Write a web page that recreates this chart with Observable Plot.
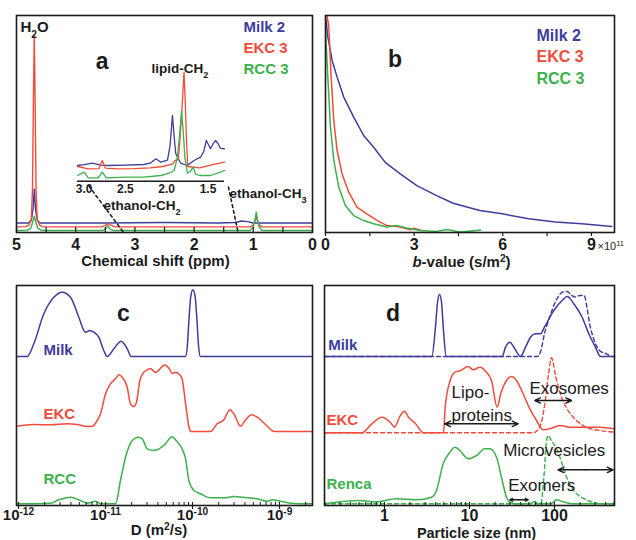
<!DOCTYPE html>
<html><head><meta charset="utf-8">
<script src="https://cdn.jsdelivr.net/npm/d3@7"></script>
<script src="https://cdn.jsdelivr.net/npm/@observablehq/plot@0.6"></script>
<style>
html,body{margin:0;padding:0;background:#fff;}
#fig{position:relative;width:636px;height:540px;overflow:hidden;background:#fff;}
</style></head><body><div id="fig"></div>
<script>
// ================= DATA =================
const namesAB = ["Milk 2", "EKC 3", "RCC 3"];
const namesC = ["Milk", "EKC", "RCC"];
const namesD = ["Milk", "EKC", "Renca"];
const regionNames = ["Lipo-", "proteins", "Exosomes", "Microvesicles", "Exomers"];

// panel a: 1H spectra [ppm, intensity]
const milkA = [[5,4.4],[4.8,4.4],[4.75,5.5],[4.72,11],[4.70,20],[4.68,11],[4.65,5.5],[4.6,4.4],[3.5,4.4],[2.5,4.6],[1.6,4.4],[1.3,4.6],[1.2,5.3],[1.1,5.0],[1.0,4.4],[0,4.4]];
const ekcA = [[5,2.6],[4.85,2.7],[4.79,3.3],[4.75,6],[4.73,20],[4.715,60],[4.70,90.8],[4.685,60],[4.67,20],[4.65,6],[4.61,3.3],[4.55,2.7],[4.4,2.6],[3.56,2.6],[3.5,3.3],[3.45,4.1],[3.4,3.3],[3.33,2.6],[1.05,2.6],[1.0,3.5],[0.97,5.5],[0.95,7.1],[0.93,5.5],[0.9,3.5],[0.85,2.6],[0,2.6]];
const rccA = [[5,0.9],[4.82,1.0],[4.76,2],[4.73,4.5],[4.70,7.5],[4.67,4.5],[4.64,2],[4.58,1.0],[4.5,0.9],[3.55,0.9],[3.5,1.6],[3.46,3.2],[3.42,1.6],[3.36,0.9],[1.05,0.9],[1.0,2.5],[0.97,6],[0.95,9.4],[0.93,6],[0.9,2.5],[0.85,0.9],[0,0.9]];
// panel a inset [ppm, intensity]
const milkIn = [[3.08,15.7],[3.0,16.5],[2.9,18],[2.8,16],[2.7,15.7],[2.5,16],[2.28,16.7],[2.2,18],[2.13,22.4],[2.07,19],[1.99,21],[1.96,35],[1.93,65.7],[1.91,45],[1.89,27.4],[1.83,18],[1.75,15.7],[1.67,20.7],[1.59,24],[1.55,30],[1.52,40.7],[1.49,36],[1.47,32.4],[1.44,37],[1.41,40.7],[1.38,38],[1.35,33],[1.30,32.4]];
const ekcIn = [[3.08,14.7],[2.95,12.4],[2.82,12.6],[2.78,20.7],[2.74,13],[2.6,12.4],[2.4,12.5],[2.2,13.4],[2.05,14.7],[1.93,17],[1.9,20.7],[1.86,21.5],[1.84,40],[1.81,80],[1.79,109],[1.775,80],[1.76,40],[1.745,14.7],[1.6,13.4],[1.47,16],[1.30,19]];
const rccIn = [[3.08,5.7],[3.0,9],[2.95,3.4],[2.83,3.4],[2.78,9],[2.73,3.4],[2.5,4],[2.28,4],[2.07,5.7],[1.97,8],[1.91,10.7],[1.87,24],[1.84,50],[1.82,70.7],[1.80,50],[1.78,24],[1.75,8],[1.71,10],[1.68,14],[1.65,7],[1.6,5.7],[1.47,5.7],[1.35,9],[1.30,10.7]];

// panel b: decay [b-value (1e11 s/m2), normalized signal]
const milkB = [[0,1.0],[0.08,0.9],[0.225,0.793],[0.393,0.716],[0.617,0.624],[0.954,0.532],[1.29,0.447],[1.63,0.393],[2.02,0.323],[2.53,0.270],[3.09,0.216],[3.76,0.17],[4.32,0.135],[5.22,0.101],[5.98,0.086],[6.88,0.063],[7.78,0.048],[8.68,0.040],[9.69,0.028]];
const ekcB = [[0.03,1.02],[0.112,0.946],[0.191,0.716],[0.28,0.516],[0.393,0.378],[0.561,0.270],[0.786,0.186],[1.066,0.117],[1.40,0.086],[1.74,0.056],[2.08,0.032],[2.53,0.025],[2.86,0.012],[3.0,0.02],[3.25,0.009]];
const rccB = [[0,0.93],[0.079,0.716],[0.168,0.485],[0.28,0.332],[0.449,0.209],[0.673,0.124],[0.954,0.078],[1.29,0.055],[1.63,0.040],[2.08,0.025],[2.41,0.032],[2.75,0.021],[3.2,0.009],[3.76,0.005],[4.1,0.014],[4.55,0.002],[5.11,0.009],[5.25,0.012]];

// panel c: D distributions [log10 D, height]
const milkC = [[-12.023,0],[-11.90,0],[-11.824,12.7],[-11.709,42.7],[-11.594,59.3],[-11.498,64.3],[-11.402,59.3],[-11.307,39.3],[-11.23,24.3],[-11.18,26],[-11.134,24.3],[-11.077,19.3],[-11.02,6],[-10.98,0],[-10.904,7.7],[-10.82,15.3],[-10.75,7.7],[-10.705,0],[-10.08,0],[-10.06,10],[-10.04,38],[-10.02,60],[-9.996,66.7],[-9.97,60],[-9.95,38],[-9.93,10],[-9.91,0],[-8.624,0]];
const ekcC = [[-12.023,5.3],[-11.824,7],[-11.632,6.7],[-11.44,7.7],[-11.325,7],[-11.21,5],[-11.153,5.3],[-11.095,11],[-11.057,17.7],[-11.0,37.7],[-10.943,47.7],[-10.885,52.7],[-10.847,56.7],[-10.808,54.3],[-10.75,44.3],[-10.713,27.7],[-10.675,25],[-10.644,29.3],[-10.605,51],[-10.567,58.3],[-10.52,61.7],[-10.483,63],[-10.425,59],[-10.32,66.5],[-10.272,63.5],[-10.233,58],[-10.195,59.3],[-10.15,57],[-10.118,52],[-10.08,28],[-10.042,5],[-10.023,0],[-9.793,0],[-9.716,7.7],[-9.64,11.7],[-9.571,21.7],[-9.525,17.7],[-9.448,5.3],[-9.39,11.7],[-9.322,16.7],[-9.256,14.3],[-9.161,7],[-9.057,0],[-8.624,0]];
const rccC = [[-12.023,0],[-11.632,0.6],[-11.537,4],[-11.402,6.6],[-11.287,3.3],[-11.21,0.6],[-11.115,2.6],[-11.057,0],[-10.885,0],[-10.828,23.3],[-10.77,46.6],[-10.693,63.3],[-10.63,66.6],[-10.578,65],[-10.52,55],[-10.444,53.3],[-10.406,54],[-10.31,60],[-10.24,67],[-10.176,62],[-10.12,55],[-10.08,45],[-10.042,23.3],[-9.985,13.5],[-9.908,10],[-9.793,6],[-9.64,6],[-9.525,7.3],[-9.371,6],[-9.256,5],[-9.14,2.6],[-9.084,4],[-8.989,2.6],[-8.874,0.6],[-8.682,0],[-8.624,0]];

// panel d: size distributions [log10 nm, height]; solid and dashed
const milkD = [[-0.706,0],[0.557,0],[0.596,26],[0.625,55],[0.647,62],[0.67,55],[0.694,26],[0.726,0],[1.384,0],[1.424,9.3],[1.475,14.3],[1.522,9.3],[1.6,0],[1.659,9.3],[1.718,19.3],[1.776,22.7],[1.835,22.7],[1.882,29.3],[1.992,46],[2.09,56],[2.149,60],[2.227,52.7],[2.325,39.3],[2.404,22.7],[2.482,9.3],[2.541,0],[2.706,0]];
const milkDd = [[-0.706,0],[1.80,0],[1.84,6],[1.88,22],[1.945,40],[2.024,57],[2.10,64.5],[2.15,65],[2.19,62],[2.24,59.5],[2.30,61],[2.35,61],[2.38,50],[2.42,30],[2.46,18],[2.53,6],[2.61,2.7],[2.68,0],[2.706,0]];
const ekcD = [[-0.706,0],[-0.267,0],[-0.149,9],[-0.031,15.6],[0.067,10.6],[0.118,5.6],[0.184,17],[0.235,21.6],[0.282,15.6],[0.361,9.6],[0.459,0],[0.694,0],[0.714,25.6],[0.773,52.3],[0.831,60.6],[0.89,62],[0.984,66.3],[1.043,63],[1.122,65.6],[1.2,60.6],[1.259,52.3],[1.325,25.6],[1.37,40],[1.435,52.3],[1.494,56.3],[1.553,52.3],[1.631,39],[1.71,24],[1.788,12.3],[1.867,3],[1.945,4],[2.063,7.3],[2.18,5.6],[2.337,5.6],[2.533,5.6],[2.706,4]];
const ekcDd = [[-0.706,0],[1.749,0],[1.827,5.6],[1.886,29],[1.925,55.6],[1.965,75],[2.016,55.6],[2.082,35.6],[2.16,22.3],[2.259,12.3],[2.376,5.6],[2.533,2.3],[2.706,0.6]];
const rencaD = [[-0.706,0],[-0.565,1.6],[-0.31,3.3],[-0.094,2],[0.141,5],[0.376,4],[0.553,6.6],[0.612,13.3],[0.69,40],[0.769,51.6],[0.827,56.6],[0.886,53.3],[0.984,45],[1.082,48.3],[1.18,55],[1.239,55],[1.318,46.6],[1.376,26.6],[1.435,6.6],[1.475,1.6],[1.553,0],[1.71,0],[1.769,2.3],[1.808,0],[1.96,0],[2.024,4],[2.1,2],[2.22,0],[2.706,0]];
const rencaDd = [[-0.706,0],[1.84,0],[1.875,26.6],[1.906,62],[1.925,68.3],[1.965,63],[2.024,55],[2.082,42],[2.141,27],[2.22,14],[2.337,5.6],[2.455,1.6],[2.573,0],[2.706,0]];

// stacking baselines (panel units)
const offsetsC = [149, 74, 1.7];
const offsetsD = [149, 72.7, 1.7];
// size ranges (nm) for the arrows in panel d
const rangeLipo = [5.1, 37.4], rangeExo = [58.7, 158.5], rangeMicro = [110, 490], rangeExomer = [29.8, 49];

// ticks
const ticksA = [5, 4, 3, 2, 1, 0];
const minorA = [5, 4.5, 4, 3.5, 3, 2.5, 2, 1.5, 1, 0.5, 0];
const ticksInset = [3.0, 2.5, 2.0, 1.5];
const ticksB = [0, 3, 6, 9];
const minorB = [0, 1.5, 3, 4.5, 6, 7.5, 9];
const ticksC = [1e-12, 1e-11, 1e-10, 1e-9];
const ticksD = [1, 10, 100, 500];
const decadesD = [1, 10, 100];

// ================= DRAW =================
const FONT = '"Liberation Sans", Arial, Helvetica, sans-serif';
const INK = "#1b1b1b";
const COLORS = ["#3d3d9e", "#f14b3b", "#3bb14b"];
const fig = document.getElementById("fig");

function richText(svg) {
  d3.select(svg).selectAll("text").each(function () {
    if (this.children.length) return;
    const s = this.textContent;
    if (!/[\^_*]\{/.test(s)) return;
    this.textContent = "";
    const re = /([\^_*])\{([^}]*)\}/g;
    let last = 0, m;
    const add = (t) => { const e = document.createElementNS("http://www.w3.org/2000/svg", "tspan"); e.textContent = t; this.appendChild(e); return e; };
    while ((m = re.exec(s))) {
      if (m.index > last) add(s.slice(last, m.index));
      const t = add(m[2]);
      if (m[1] === "^") { t.setAttribute("baseline-shift", "super"); t.setAttribute("font-size", "68%"); }
      else if (m[1] === "_") { t.setAttribute("baseline-shift", "sub"); t.setAttribute("font-size", "68%"); }
      else t.setAttribute("font-style", "italic");
      last = re.lastIndex;
    }
    if (last < s.length) add(s.slice(last));
  });
}
function mount(svg, left, top) {
  svg.style.position = "absolute";
  svg.style.left = left + "px";
  svg.style.top = top + "px";
  svg.style.maxWidth = "none";
  svg.style.background = "transparent";
  svg.style.overflow = "visible";
  fig.appendChild(svg);
  richText(svg);
}
function lab(text, dx, dy, o = {}) {
  return Plot.text([text], {
    frameAnchor: "top-left", dx, dy, textAnchor: o.anchor || "start", lineAnchor: "middle",
    fontSize: o.size || 15, fontWeight: o.weight || "bold", fill: o.fill || INK
  });
}
const base = (w, h, m) => ({
  width: w, height: h, marginTop: m[0], marginRight: m[1], marginBottom: m[2], marginLeft: m[3],
  style: { fontFamily: FONT, background: "transparent", overflow: "visible", color: INK }
});
const axisOpts = (size, pad) => ({ tickSize: 0, tickPadding: pad, fontSize: size, fontWeight: "bold", label: null });
const logMinor = (lo, hi) => {
  const out = [];
  for (let e = Math.floor(Math.log10(lo)); e <= Math.ceil(Math.log10(hi)); e++)
    for (let k = 1; k < 10; k++) { const v = k * 10 ** e; if (v >= lo && v <= hi) out.push(v); }
  return out;
};

// ---------- panel a ----------
const specA = [milkA, ekcA, rccA];
const A = Plot.plot({
  ...base(318, 270, [15, 6, 38, 16]),
  x: { domain: [5, 0] }, y: { domain: [0, 100], axis: null },
  marks: [
    ...specA.map((d, i) => Plot.line(d, { x: p => p[0], y: p => p[1], stroke: COLORS[i], strokeWidth: 1.4 })),
    Plot.line([[3.78, 21.5], [3.19, 0]], { x: p => p[0], y: p => p[1], stroke: INK, strokeWidth: 1.5, strokeDasharray: "3,3" }),
    Plot.line([[1.42, 21], [1.26, 0.4]], { x: p => p[0], y: p => p[1], stroke: INK, strokeWidth: 1.5, strokeDasharray: "3,3" }),
    Plot.ruleX(minorA, { insetTop: 217 - 5, stroke: INK, strokeWidth: 1.2 }),
    Plot.frame({ stroke: INK, strokeWidth: 1.6 }),
    Plot.axisX({ ticks: ticksA, tickFormat: d => String(d), ...axisOpts(16, 6) }),
    lab("H_{2}O", 4, 12, { size: 15 }),
    lab("a", 85.7, 46, { size: 23, anchor: "middle" }),
    lab("lipid-CH_{2}", 135, 53, { size: 13.5 }),
    lab("ethanol-CH_{2}", 87, 190, { size: 13.5 }),
    lab("ethanol-CH_{3}", 213, 178, { size: 13.5 }),
    ...namesAB.map((n, i) => lab(n, 227, 11.7 + i * 20.8, { size: 15, fill: COLORS[i] })),
    lab("Chemical shift (ppm)", 139, 246, { size: 15, anchor: "middle" })
  ]
});
mount(A, 0, 0);

const specIn = [milkIn, ekcIn, rccIn];
const AI = Plot.plot({
  ...base(166, 145, [10, 12, 24.3, 7]),
  x: { domain: [3.08, 1.30] }, y: { domain: [0, 110.7], axis: null },
  marks: [
    ...specIn.map((d, i) => Plot.line(d, { x: p => p[0], y: p => p[1], stroke: COLORS[i], strokeWidth: 1.3 })),
    Plot.ruleY([0], { stroke: INK, strokeWidth: 1.5 }),
    Plot.axisX({ ticks: ticksInset, tickFormat: d3.format(".1f"), ...axisOpts(12, 3) })
  ]
});
mount(AI, 70, 60);

// ---------- panel b ----------
const decB = [milkB, ekcB, rccB];
const B = Plot.plot({
  ...base(318, 270, [15, 22, 38, 7]),
  x: { domain: [0, 9.78] }, y: { domain: [0, 1], axis: null },
  marks: [
    ...decB.map((d, i) => Plot.line(d, { x: p => p[0], y: p => p[1], stroke: COLORS[i], strokeWidth: 1.5, clip: true })),
    Plot.ruleX(minorB, { insetTop: 217, insetBottom: -4, stroke: INK, strokeWidth: 1.2 }),
    Plot.frame({ stroke: INK, strokeWidth: 1.6 }),
    Plot.axisX({ ticks: ticksB, tickFormat: d => String(d), ...axisOpts(16, 6) }),
    lab("b", 69.5, 44, { size: 23, anchor: "middle" }),
    ...namesAB.map((n, i) => lab(n, 211, 20 + i * 21.5, { size: 16, fill: COLORS[i] })),
    lab("\u00d710^{11}", 272, 231, { size: 11, weight: "normal" }),
    lab("*{b}-value (s/m^{2})", 136, 247, { size: 15, anchor: "middle" })
  ]
});
mount(B, 318, 0);

// ---------- panel c ----------
const distC = [milkC, ekcC, rccC];
const domC = [10 ** -12.023, 10 ** -8.621];
const C = Plot.plot({
  ...base(318, 270, [15, 6, 35, 16]),
  x: { type: "log", domain: domC }, y: { domain: [0, 220], axis: null },
  marks: [
    ...distC.map((d, i) => Plot.line(d, { x: p => 10 ** p[0], y: p => offsetsC[i] + p[1], stroke: COLORS[i], strokeWidth: 1.5, curve: "monotone-x" })),
    Plot.ruleX(logMinor(domC[0], domC[1]), { insetTop: 220 - 3, stroke: INK, strokeWidth: 1 }),
    Plot.ruleX(ticksC, { insetTop: 220, insetBottom: -4, stroke: INK, strokeWidth: 1.2 }),
    Plot.frame({ stroke: INK, strokeWidth: 1.6 }),
    Plot.axisX({ ticks: ticksC, tickFormat: d => "10^{" + Math.round(Math.log10(d)) + "}", ...axisOpts(15, 4) }),
    lab("c", 107, 28, { size: 23, anchor: "middle" }),
    ...namesC.map((n, i) => lab(n, 27, [65, 128.3, 193.3][i], { size: 15, fill: COLORS[i] })),
    lab("D (m^{2}/s)", 142.5, 245, { size: 15, anchor: "middle" })
  ]
});
mount(C, 0, 270);

// ---------- panel d ----------
const solidD = [milkD, ekcD, rencaD];
const dashD = [milkDd, ekcDd, rencaDd];
const domD = [10 ** -0.706, 10 ** 2.706];
const arrow = (r, y) => {
  const mid = Math.sqrt(r[0] * r[1]);
  return [
    Plot.arrow([0], { x1: () => mid, x2: () => r[0], y1: () => y, y2: () => y, stroke: INK, strokeWidth: 1.4, headLength: 7, headAngle: 50 }),
    Plot.arrow([0], { x1: () => mid, x2: () => r[1], y1: () => y, y2: () => y, stroke: INK, strokeWidth: 1.4, headLength: 7, headAngle: 50 })
  ];
};
const ann = (t, x, y) => Plot.text([t], { x: () => x, y: () => y, textAnchor: "start", fontSize: 17, fill: INK, fontFamily: FONT });
const D = Plot.plot({
  ...base(318, 270, [15, 22, 35, 6]),
  x: { type: "log", domain: domD }, y: { domain: [0, 220], axis: null },
  marks: [
    ...dashD.map((d, i) => Plot.line(d, { x: p => 10 ** p[0], y: p => offsetsD[i] + p[1], stroke: COLORS[i], strokeWidth: 1.4, strokeDasharray: "4,3", curve: "monotone-x" })),
    ...solidD.map((d, i) => Plot.line(d, { x: p => 10 ** p[0], y: p => offsetsD[i] + p[1], stroke: COLORS[i], strokeWidth: 1.5, curve: "monotone-x" })),
    ...arrow(rangeLipo, 81.7), ...arrow(rangeExo, 105), ...arrow(rangeMicro, 35.7), ...arrow(rangeExomer, 5.7),
    ann(regionNames[0], 6.14, 113.3), ann(regionNames[1], 6.14, 90),
    ann(regionNames[2], 50.8, 116.7), ann(regionNames[3], 24.9, 55), ann(regionNames[4], 28.5, 20),
    Plot.ruleX(logMinor(domD[0], domD[1]), { insetTop: 220 - 3, stroke: INK, strokeWidth: 1 }),
    Plot.ruleX(decadesD, { insetTop: 220, insetBottom: -4, stroke: INK, strokeWidth: 1.2 }),
    Plot.frame({ stroke: INK, strokeWidth: 1.6 }),
    Plot.axisX({ ticks: ticksD, tickFormat: d => String(d), ...axisOpts(16, 4) }),
    lab("d", 68.5, 28, { size: 23, anchor: "middle" }),
    ...namesD.map((n, i) => lab(n, [3.7, 2, 2][i], [60, 135, 198.3][i], { size: 15, fill: COLORS[i] })),
    lab("Particle size (nm)", 152, 248, { size: 14.5, anchor: "middle" })
  ]
});
mount(D, 318, 270);
</script></body></html>
